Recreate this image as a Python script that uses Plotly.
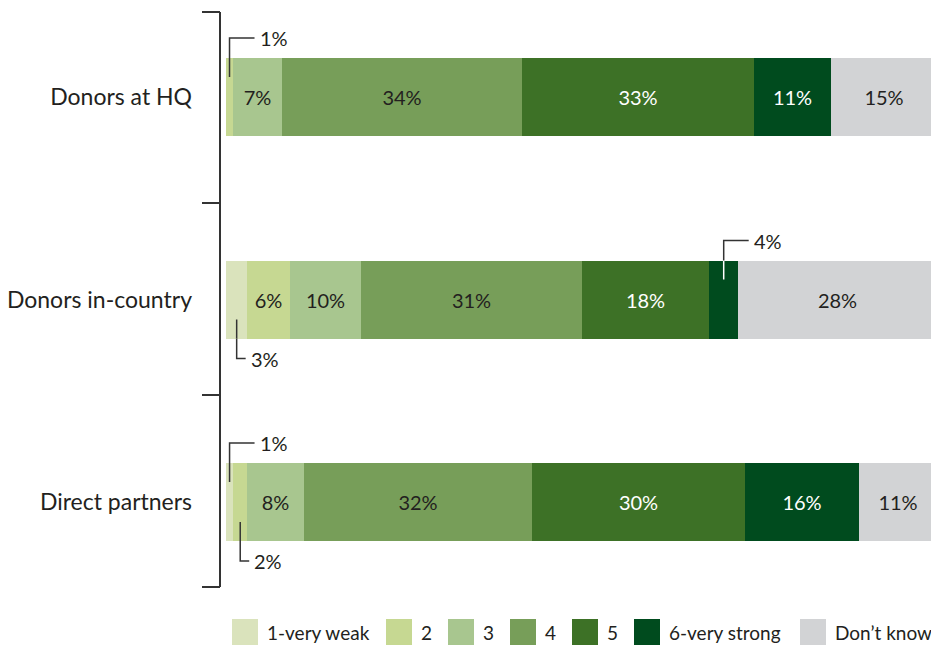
import plotly.graph_objects as go

categories = ["Donors at HQ", "Donors in-country", "Direct partners"]
series_names = ["1-very weak", "2", "3", "4", "5", "6-very strong", "Don\u2019t know"]
colors = ["#DAE3BC", "#C6D892", "#A8C68F", "#779E59", "#3D7126", "#004B1E", "#D2D3D5"]
text_colors = ["#231F20", "#231F20", "#231F20", "#231F20", "#FFFFFF", "#FFFFFF", "#231F20"]

very_weak = [0, 3, 1]
two = [1, 6, 2]
three = [7, 10, 8]
four = [34, 31, 32]
five = [33, 18, 30]
very_strong = [11, 4, 16]
dont_know = [15, 28, 11]

series_values = [very_weak, two, three, four, five, very_strong, dont_know]

# callouts for small segments: (category index, series index, direction -1 up / +1 down)
callouts = [(0, 1, -1), (1, 0, 1), (1, 5, -1), (2, 0, -1), (2, 1, 1)]

FONT = "Lato"
DARK = "#231F20"

# page has an 8px body margin; target coordinates are in the 939x645 page
OFF = 8
W, H = 939 - OFF, 645 - OFF
PLOT_L, PLOT_R = 226, 937          # page px of 0% and 100%
ML = PLOT_L - OFF
MR = W - (PLOT_R - OFF)
PW = PLOT_R - PLOT_L
PX_PER_X = PW / 100.0
CENTER0, PX_PER_Y = 97.0, 202.5     # page px of first category centre, px per category


def vy(py):
    return (py - CENTER0) / PX_PER_Y


def paper_x(px):
    return (px - PLOT_L) / PW


def paper_y(py):
    return 1 - (py - OFF) / H


Y_TOP, Y_BOT = vy(OFF), vy(645)

fig = go.Figure()
ypos = list(range(len(categories)))
BAR_W = 78 / PX_PER_Y
for name, vals, col, tcol in zip(series_names, series_values, colors, text_colors):
    fig.add_trace(go.Bar(
        y=ypos, x=vals, orientation="h", name=name,
        marker=dict(color=col, line=dict(width=0)),
        width=BAR_W,
        text=[f"{v}%" if v >= 5 else "" for v in vals],
        textposition="inside", insidetextanchor="middle",
        textfont=dict(family=FONT, size=20, color=tcol),
        showlegend=False, hoverinfo="skip",
    ))

shapes = []
annotations = []

# callouts (positions follow the percent-normalised stacks)
inner = 20 / PX_PER_Y
outer = 59 / PX_PER_Y
for ci, si, d in callouts:
    total = sum(s[ci] for s in series_values)
    start = sum(series_values[k][ci] for k in range(si))
    v = series_values[si][ci]
    xc = (start + v / 2.0) * 100.0 / total
    leg = (25 if d < 0 else 9) / PX_PER_X
    y_in = ci + d * inner
    y_bar_edge = ci + d * (BAR_W / 2)
    y_out = ci + d * outer
    line_in_col = "#FFFFFF" if text_colors[si] == "#FFFFFF" else "#333333"
    shapes.append(dict(type="line", xref="x", yref="y", x0=xc, x1=xc, y0=y_in, y1=y_bar_edge,
                       line=dict(color=line_in_col, width=1.5)))
    shapes.append(dict(type="path", xref="x", yref="y",
                       path=f"M{xc},{y_bar_edge} L{xc},{y_out} L{xc + leg},{y_out}",
                       line=dict(color="#333333", width=1.5)))
    annotations.append(dict(x=xc + leg + 3 / PX_PER_X, y=y_out, xref="x", yref="y",
                            text=f"{v}%", showarrow=False, xanchor="left", yanchor="middle",
                            font=dict(family=FONT, size=20, color=DARK)))

# bracket on the left
bx = paper_x(220)
bx0 = paper_x(202)
bounds = [vy(12), vy(203), vy(395), vy(587)]
shapes.append(dict(type="line", xref="paper", yref="y", x0=bx, x1=bx, y0=bounds[0], y1=bounds[-1],
                   line=dict(color="#333333", width=2)))
for b in bounds:
    shapes.append(dict(type="line", xref="paper", yref="y", x0=bx0, x1=bx, y0=b, y1=b,
                       line=dict(color="#333333", width=2)))

# legend (manual, large swatches)
sw_x = [232, 386, 448, 510, 572, 634, 800]
sw_w = 26
for name, col, x0 in zip(series_names, colors, sw_x):
    shapes.append(dict(type="rect", xref="paper", yref="paper",
                       x0=paper_x(x0), x1=paper_x(x0 + sw_w),
                       y0=paper_y(645), y1=paper_y(619),
                       fillcolor=col, line=dict(width=0)))
    annotations.append(dict(x=paper_x(x0 + sw_w + 7), y=paper_y(632),
                            xref="paper", yref="paper", text=name, showarrow=False,
                            xanchor="left", yanchor="middle",
                            font=dict(family=FONT, size=19, color=DARK)))

fig.update_layout(
    width=W, height=H,
    margin=dict(l=ML, r=MR, t=0, b=0, autoexpand=False),
    barmode="stack", barnorm="percent", bargap=0,
    plot_bgcolor="white", paper_bgcolor="white",
    xaxis=dict(range=[0, 100], visible=False, fixedrange=True),
    yaxis=dict(range=[Y_BOT, Y_TOP], tickvals=ypos, ticktext=categories,
               ticks="", showgrid=False, zeroline=False, showline=False,
               ticklabelstandoff=33, automargin=False,
               tickfont=dict(family=FONT, size=23, color=DARK)),
    shapes=shapes, annotations=annotations,
    font=dict(family=FONT, color=DARK),
)

fig.write_html("out.html")
